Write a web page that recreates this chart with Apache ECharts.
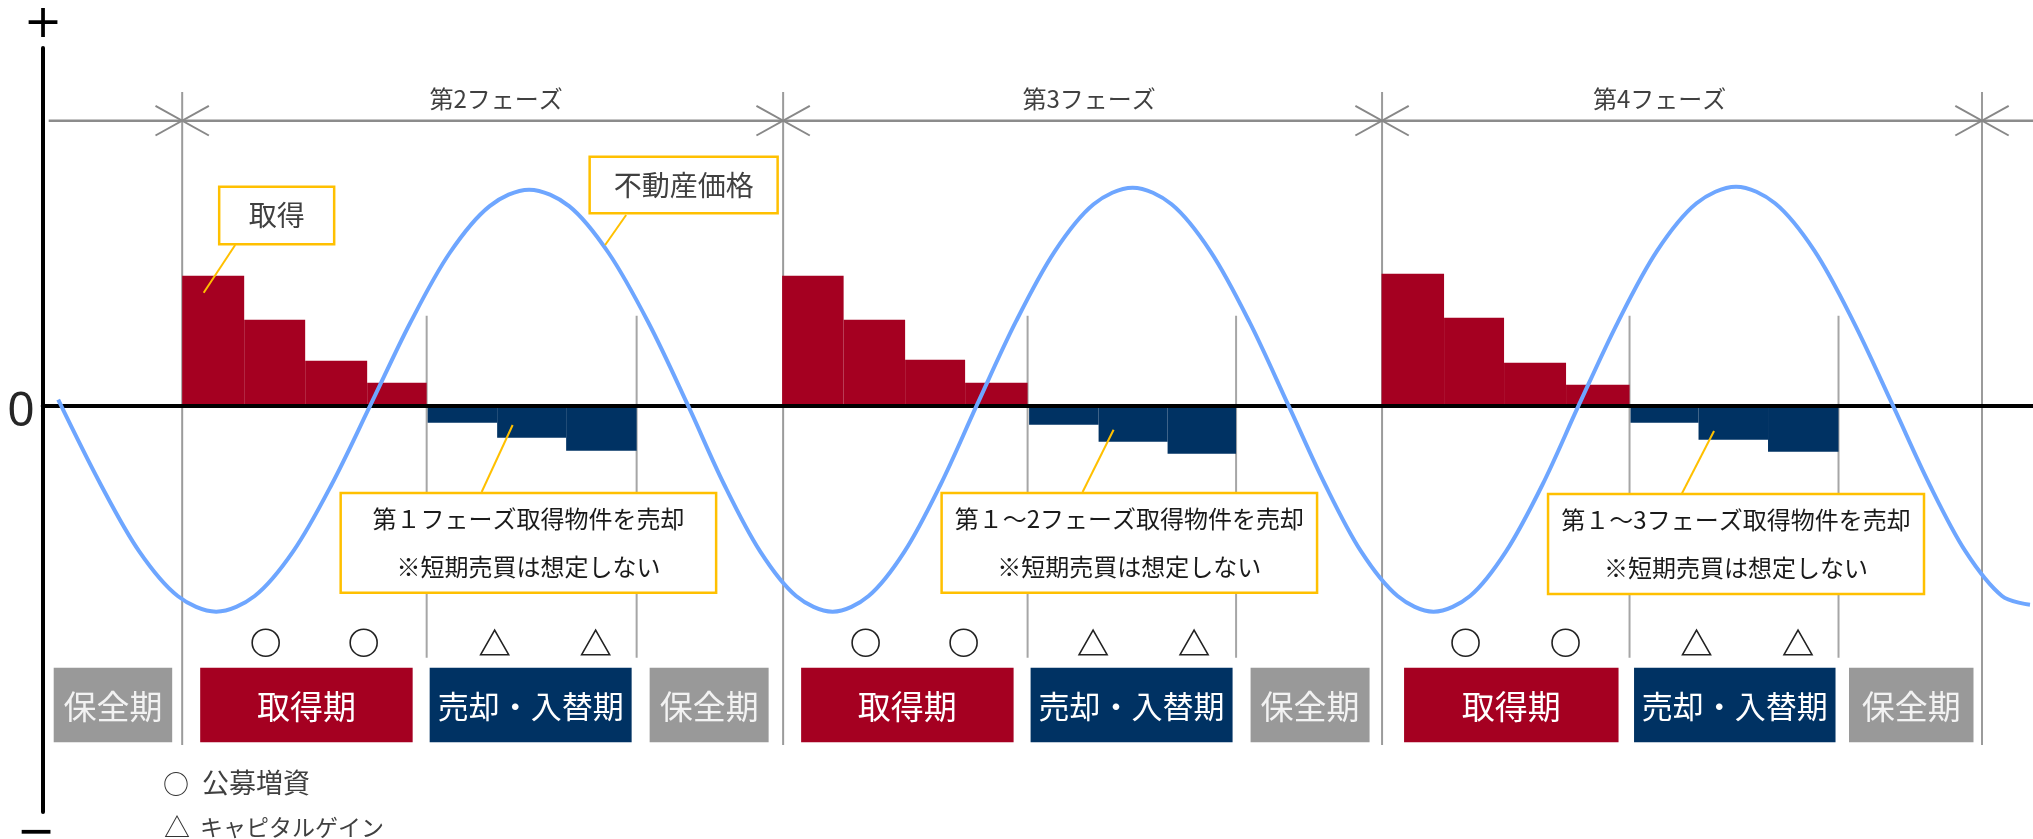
<!DOCTYPE html>
<html><head><meta charset="utf-8">
<script src="https://cdn.jsdelivr.net/npm/echarts@6/dist/echarts.min.js"></script>
<style>html,body{margin:0;padding:0;background:#fff}#c{width:2033px;height:839px}</style>
</head><body><div id="c"></div>
<script>
// ---------------- data ----------------
const phaseLabels = ['第2フェーズ', '第3フェーズ', '第4フェーズ'];
const phaseLabelX = [18.28, 30.14, 41.55];
const phaseBounds = [12.0, 24.02, 36.0, 48.0];
const periodBounds = [16.89, 21.09, 28.91, 33.08, 40.95, 45.13];
// [start, end, value]
const acquisitionBars = [
  [12.00, 13.24, 13.0], [13.24, 14.46, 8.6], [14.46, 15.70, 4.5], [15.70, 16.89, 2.3],
  [24.00, 25.23, 13.0], [25.23, 26.46, 8.6], [26.46, 27.66, 4.6], [27.66, 28.91, 2.3],
  [35.99, 37.24, 13.2], [37.24, 38.44, 8.8], [38.44, 39.68, 4.3], [39.68, 40.95, 2.1]
];
const saleBars = [
  [16.91, 18.30, -1.7], [18.30, 19.68, -3.2], [19.68, 21.09, -4.5],
  [28.94, 30.33, -1.9], [30.33, 31.71, -3.6], [31.71, 33.08, -4.8],
  [40.97, 42.33, -1.7], [42.33, 43.72, -3.4], [43.72, 45.13, -4.6]
];
const priceCurve = [
  [9.52, 0.6],
  [10.37, -7.88], [11.14, -14.57], [11.91, -19.03], [12.68, -20.6], [13.45, -19.03], [14.22, -14.57], [14.99, -7.88], [15.76, 0],
  [16.56, 8.27], [17.35, 15.27], [18.15, 19.96], [18.94, 21.6], [19.74, 19.96], [20.53, 15.27], [21.33, 8.27], [22.12, 0],
  [22.84, -7.88], [23.56, -14.57], [24.28, -19.03], [25.01, -20.6], [25.73, -19.03], [26.45, -14.57], [27.17, -7.88], [27.89, 0],
  [28.67, 8.35], [29.45, 15.41], [30.23, 20.14], [31.01, 21.8], [31.79, 20.14], [32.57, 15.41], [33.35, 8.35], [34.13, 0],
  [34.86, -7.88], [35.58, -14.57], [36.31, -19.03], [37.03, -20.6], [37.76, -19.03], [38.48, -14.57], [39.21, -7.88], [39.93, 0],
  [40.72, 8.39], [41.50, 15.48], [42.29, 20.24], [43.08, 21.9], [43.86, 20.24], [44.65, 15.48], [45.43, 8.39], [46.22, 0],
  [46.95, -7.88], [47.67, -14.57], [48.40, -19.03], [48.96, -19.9]
];
const capitalRaiseMarks = [13.67, 15.63, 25.67, 27.63, 37.67, 39.67];
const capitalGainMarks = [18.25, 20.27, 30.22, 32.24, 42.29, 44.32];
// [label, start, end]
const periodBoxes = [
  ['保全期', 9.43, 11.80],
  ['取得期', 12.36, 16.61], ['売却・入替期', 16.95, 20.99], ['保全期', 21.35, 23.73],
  ['取得期', 24.38, 28.63], ['売却・入替期', 28.97, 33.01], ['保全期', 33.37, 35.75],
  ['取得期', 36.44, 40.73], ['売却・入替期', 41.04, 45.07], ['保全期', 45.34, 47.83]
];
const saleNotes = ['第１フェーズ取得物件を売却', '第１～2フェーズ取得物件を売却', '第１～3フェーズ取得物件を売却'];
const saleNoteSub = '※短期売買は想定しない';
const legendItems = ['公募増資', 'キャピタルゲイン'];

// ---------------- layout / style ----------------
const JP = '"Noto Sans CJK JP", "Noto Sans", sans-serif';
const RED = '#A50021', NAVY = '#003263', GRAY_BOX = '#999999', YEL = '#FFC000';
const X_MIN = 9.21, X_MAX = 49.02, Y_MIN = -40.63, Y_MAX = 35.77;

const chart = echarts.init(document.getElementById('c'), null, {renderer: 'canvas'});

function barRender(color) {
  return function (params, api) {
    const x0 = api.value(0), x1 = api.value(1), v = api.value(2);
    const a = api.coord([x0, v]), b = api.coord([x1, 0]);
    return {type: 'rect', shape: {x: a[0], y: Math.min(a[1], b[1]), width: b[0] - a[0], height: Math.abs(b[1] - a[1])},
      style: {fill: color}};
  };
}

const option = {
  animation: false,
  backgroundColor: '#fff',
  grid: {left: 42.7, right: 0, top: 48, bottom: 27, containLabel: false},
  xAxis: {type: 'value', min: X_MIN, max: X_MAX, z: 3,
    axisLine: {show: true, onZero: true, lineStyle: {color: '#000', width: 4}},
    axisTick: {show: false}, axisLabel: {show: false}, splitLine: {show: false}},
  yAxis: {type: 'value', min: Y_MIN, max: Y_MAX,
    axisLine: {show: true, onZero: false, lineStyle: {color: '#000', width: 4}},
    axisTick: {show: false}, axisLabel: {show: false}, splitLine: {show: false}},
  series: [
    // phase boundary lines + dimension line with X marks
    {type: 'custom', z: 1, silent: true, data: phaseBounds.map((x) => [x, 0]),
      renderItem: function (params, api) {
        const x = api.value(0);
        const top = api.coord([x, 31.37]), bot = api.coord([x, -33.93]), mid = api.coord([x, 28.5]);
        const ch = [
          {type: 'line', shape: {x1: top[0], y1: top[1], x2: bot[0], y2: bot[1]}, style: {stroke: '#9B9B9B', lineWidth: 2}},
          {type: 'line', shape: {x1: mid[0] - 26.7, y1: mid[1] - 14.8, x2: mid[0] + 26.7, y2: mid[1] + 14.8}, style: {stroke: '#888', lineWidth: 2}},
          {type: 'line', shape: {x1: mid[0] - 26.7, y1: mid[1] + 14.8, x2: mid[0] + 26.7, y2: mid[1] - 14.8}, style: {stroke: '#888', lineWidth: 2}}
        ];
        if (params.dataIndex === 0) {
          const l = api.coord([9.33, 28.5]), r = api.coord([X_MAX, 28.5]);
          ch.push({type: 'line', shape: {x1: l[0], y1: l[1], x2: r[0], y2: r[1]}, style: {stroke: '#8C8C8C', lineWidth: 2.5}});
        }
        return {type: 'group', children: ch};
      }},
    // phase labels
    {type: 'custom', z: 1, silent: true, data: phaseLabelX.map((x, i) => [x, 30.67, i]),
      renderItem: function (params, api) {
        const p = api.coord([api.value(0), api.value(1)]);
        return {type: 'text', style: {text: phaseLabels[params.dataIndex], x: p[0], y: p[1], fill: '#404040',
          font: '24px ' + JP, align: 'center', verticalAlign: 'middle'}};
      }},
    // period dividers
    {type: 'custom', z: 1, silent: true, data: periodBounds.map((x) => [x, 0]),
      renderItem: function (params, api) {
        const t = api.coord([api.value(0), 9.0]), b = api.coord([api.value(0), -25.2]);
        return {type: 'line', shape: {x1: t[0], y1: t[1], x2: b[0], y2: b[1]}, style: {stroke: '#A6A6A6', lineWidth: 2}};
      }},
    {name: '取得', type: 'custom', z: 2, data: acquisitionBars, encode: {x: [0, 1], y: 2}, renderItem: barRender(RED)},
    {name: '売却', type: 'custom', z: 2, data: saleBars, encode: {x: [0, 1], y: 2}, renderItem: barRender(NAVY)},
    {name: '不動産価格', type: 'line', z: 5, data: priceCurve, smooth: 0.33, showSymbol: false, symbol: 'none',
      lineStyle: {color: '#6EA6FF', width: 4}},
    // period boxes
    {type: 'custom', z: 2, silent: true, data: periodBoxes.map((d) => [d[1], d[2]]),
      renderItem: function (params, api) {
        const lab = periodBoxes[params.dataIndex][0];
        const a = api.coord([api.value(0), -26.2]), b = api.coord([api.value(1), -33.66]);
        const fill = lab === '取得期' ? RED : (lab === '保全期' ? GRAY_BOX : NAVY);
        const fs = lab.length > 3 ? 31 : 33;
        return {type: 'group', children: [
          {type: 'rect', shape: {x: a[0], y: a[1], width: b[0] - a[0], height: b[1] - a[1]}, style: {fill: fill}},
          {type: 'text', style: {text: lab, x: (a[0] + b[0]) / 2, y: (a[1] + b[1]) / 2 + 1, fill: lab === '保全期' ? '#F2F2F2' : '#fff',
            font: fs + 'px ' + JP, align: 'center', verticalAlign: 'middle'}}
        ]};
      }},
    // capital raise markers (circles)
    {type: 'custom', z: 3, silent: true, data: capitalRaiseMarks.map((x) => [x, -23.7]),
      renderItem: function (params, api) {
        const p = api.coord([api.value(0), api.value(1)]);
        return {type: 'circle', shape: {cx: p[0], cy: p[1], r: 13.5}, style: {fill: '#fff', stroke: '#222', lineWidth: 1.6}};
      }},
    // capital gain markers (triangles)
    {type: 'custom', z: 3, silent: true, data: capitalGainMarks.map((x) => [x, -23.7]),
      renderItem: function (params, api) {
        const p = api.coord([api.value(0), api.value(1)]);
        return {type: 'polygon', shape: {points: [[p[0], p[1] - 12.5], [p[0] + 14, p[1] + 12], [p[0] - 14, p[1] + 12]]},
          style: {fill: '#fff', stroke: '#222', lineWidth: 1.6}};
      }},
    // callouts
    {type: 'custom', z: 6, silent: true, data: [[0, 0]],
      renderItem: function (params, api) {
        const C = (x, y) => api.coord([x, y]);
        const ch = [];
        function box(x0, y0, x1, y1, lines, lx0, ly0, lx1, ly1, fs, color, lineGap) {
          const a = C(x0, y0), b = C(x1, y1), l0 = C(lx0, ly0), l1 = C(lx1, ly1);
          ch.push({type: 'line', shape: {x1: l0[0], y1: l0[1], x2: l1[0], y2: l1[1]}, style: {stroke: YEL, lineWidth: 2}});
          ch.push({type: 'rect', shape: {x: a[0], y: a[1], width: b[0] - a[0], height: b[1] - a[1]},
            style: {fill: '#fff', stroke: YEL, lineWidth: 2.5}});
          const cx = (a[0] + b[0]) / 2, cy = (a[1] + b[1]) / 2;
          lines.forEach(function (t, i) {
            const off = (i - (lines.length - 1) / 2) * lineGap;
            ch.push({type: 'text', style: {text: t, x: cx, y: cy + off, fill: color, font: fs + 'px ' + JP, align: 'center', verticalAlign: 'middle'}});
          });
        }
        box(12.74, 21.9, 15.04, 16.14, ['取得'], 13.06, 16.07, 12.43, 11.3, 28, '#404040', 0);
        box(20.15, 24.9, 23.91, 19.24, ['不動産価格'], 20.88, 19.07, 20.46, 16.07, 28, '#404040', 0);
        box(15.17, -8.73, 22.68, -18.7, [saleNotes[0], saleNoteSub], 17.99, -8.63, 18.61, -1.93, 24, '#1A1A1A', 48.5);
        box(27.19, -8.73, 34.70, -18.7, [saleNotes[1], saleNoteSub], 30.01, -8.63, 30.63, -2.4, 24, '#1A1A1A', 48.5);
        box(39.32, -8.83, 46.84, -18.83, [saleNotes[2], saleNoteSub], 42.0, -8.76, 42.64, -2.53, 24, '#1A1A1A', 48.5);
        return {type: 'group', children: ch};
      }}
  ],
  graphic: [
    {type: 'text', x: 43, y: 25, style: {text: '+', font: '46px "DejaVu Sans"', fill: '#000', align: 'center', verticalAlign: 'middle'}},
    {type: 'text', x: 21, y: 412, style: {text: '0', font: '48px "Noto Sans"', fill: '#262626', align: 'center', verticalAlign: 'middle'}},
    {type: 'text', x: 36, y: 834, style: {text: '−', font: '46px "DejaVu Sans"', fill: '#000', align: 'center', verticalAlign: 'middle'}},
    {type: 'text', x: 176, y: 784, style: {text: '○', font: '26px ' + JP, fill: '#333', align: 'center', verticalAlign: 'middle'}},
    {type: 'text', x: 202, y: 783, style: {text: legendItems[0], font: '27px ' + JP, fill: '#404040', align: 'left', verticalAlign: 'middle'}},
    {type: 'text', x: 177, y: 827, style: {text: '△', font: '26px ' + JP, fill: '#333', align: 'center', verticalAlign: 'middle'}},
    {type: 'text', x: 200, y: 827, style: {text: legendItems[1], font: '23px ' + JP, fill: '#404040', align: 'left', verticalAlign: 'middle'}}
  ]
};
chart.setOption(option);
</script>
</body></html>
